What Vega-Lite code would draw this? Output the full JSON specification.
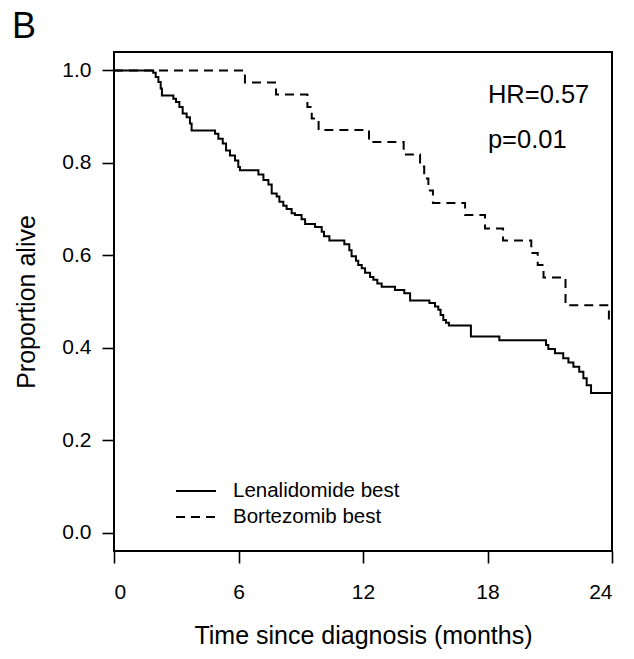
{
  "$schema": "https://vega.github.io/schema/vega-lite/v6.json",
  "autosize": {"type": "none"},
  "padding": {"left": 114, "top": 52, "right": 22, "bottom": 108},
  "width": 498,
  "height": 499,
  "background": "white",
  "title": {"text": "B", "anchor": "start", "frame": "group", "fontSize": 36, "fontWeight": "normal", "font": "Liberation Sans", "color": "black", "dx": -102, "dy": 42, "offset": 12, "baseline": "bottom"},
  "config": {
    "view": {"stroke": "black", "strokeWidth": 2},
    "axis": {"grid": false, "domain": false, "tickColor": "black", "tickWidth": 1.6, "tickSize": 12, "labelColor": "black", "labelFont": "Liberation Sans", "labelFontSize": 21, "titleFont": "Liberation Sans", "titleFontSize": 25, "titleFontWeight": "normal", "titleColor": "black"},
    "legend": {"labelFont": "Liberation Sans", "labelFontSize": 20.5, "labelColor": "black", "labelLimit": 0}
  },
  "layer": [
    {
      "data": {"values": [
        {"group": "Lenalidomide best", "t": 0, "s": 1.0},
        {"group": "Lenalidomide best", "t": 1.89, "s": 0.995},
        {"group": "Lenalidomide best", "t": 2.01, "s": 0.986},
        {"group": "Lenalidomide best", "t": 2.14, "s": 0.975},
        {"group": "Lenalidomide best", "t": 2.25, "s": 0.961},
        {"group": "Lenalidomide best", "t": 2.31, "s": 0.946},
        {"group": "Lenalidomide best", "t": 2.86, "s": 0.939},
        {"group": "Lenalidomide best", "t": 2.99, "s": 0.932},
        {"group": "Lenalidomide best", "t": 3.15, "s": 0.921},
        {"group": "Lenalidomide best", "t": 3.31, "s": 0.907},
        {"group": "Lenalidomide best", "t": 3.50, "s": 0.899},
        {"group": "Lenalidomide best", "t": 3.66, "s": 0.885},
        {"group": "Lenalidomide best", "t": 3.74, "s": 0.870},
        {"group": "Lenalidomide best", "t": 4.87, "s": 0.863},
        {"group": "Lenalidomide best", "t": 5.03, "s": 0.852},
        {"group": "Lenalidomide best", "t": 5.24, "s": 0.842},
        {"group": "Lenalidomide best", "t": 5.40, "s": 0.827},
        {"group": "Lenalidomide best", "t": 5.59, "s": 0.816},
        {"group": "Lenalidomide best", "t": 5.83, "s": 0.805},
        {"group": "Lenalidomide best", "t": 5.99, "s": 0.791},
        {"group": "Lenalidomide best", "t": 6.07, "s": 0.784},
        {"group": "Lenalidomide best", "t": 6.96, "s": 0.775},
        {"group": "Lenalidomide best", "t": 7.20, "s": 0.763},
        {"group": "Lenalidomide best", "t": 7.44, "s": 0.753},
        {"group": "Lenalidomide best", "t": 7.60, "s": 0.734},
        {"group": "Lenalidomide best", "t": 7.84, "s": 0.727},
        {"group": "Lenalidomide best", "t": 7.97, "s": 0.716},
        {"group": "Lenalidomide best", "t": 8.16, "s": 0.707},
        {"group": "Lenalidomide best", "t": 8.32, "s": 0.700},
        {"group": "Lenalidomide best", "t": 8.56, "s": 0.691},
        {"group": "Lenalidomide best", "t": 8.72, "s": 0.687},
        {"group": "Lenalidomide best", "t": 9.04, "s": 0.678},
        {"group": "Lenalidomide best", "t": 9.21, "s": 0.668},
        {"group": "Lenalidomide best", "t": 9.69, "s": 0.661},
        {"group": "Lenalidomide best", "t": 10.01, "s": 0.651},
        {"group": "Lenalidomide best", "t": 10.12, "s": 0.641},
        {"group": "Lenalidomide best", "t": 10.38, "s": 0.632},
        {"group": "Lenalidomide best", "t": 11.10, "s": 0.624},
        {"group": "Lenalidomide best", "t": 11.34, "s": 0.611},
        {"group": "Lenalidomide best", "t": 11.45, "s": 0.598},
        {"group": "Lenalidomide best", "t": 11.66, "s": 0.588},
        {"group": "Lenalidomide best", "t": 11.77, "s": 0.579},
        {"group": "Lenalidomide best", "t": 11.94, "s": 0.572},
        {"group": "Lenalidomide best", "t": 12.10, "s": 0.562},
        {"group": "Lenalidomide best", "t": 12.34, "s": 0.553},
        {"group": "Lenalidomide best", "t": 12.50, "s": 0.547},
        {"group": "Lenalidomide best", "t": 12.69, "s": 0.539},
        {"group": "Lenalidomide best", "t": 12.90, "s": 0.532},
        {"group": "Lenalidomide best", "t": 13.54, "s": 0.525},
        {"group": "Lenalidomide best", "t": 13.99, "s": 0.518},
        {"group": "Lenalidomide best", "t": 14.27, "s": 0.502},
        {"group": "Lenalidomide best", "t": 15.20, "s": 0.497},
        {"group": "Lenalidomide best", "t": 15.47, "s": 0.489},
        {"group": "Lenalidomide best", "t": 15.63, "s": 0.482},
        {"group": "Lenalidomide best", "t": 15.74, "s": 0.471},
        {"group": "Lenalidomide best", "t": 15.87, "s": 0.460},
        {"group": "Lenalidomide best", "t": 16.00, "s": 0.454},
        {"group": "Lenalidomide best", "t": 16.14, "s": 0.448},
        {"group": "Lenalidomide best", "t": 17.20, "s": 0.424},
        {"group": "Lenalidomide best", "t": 18.57, "s": 0.416},
        {"group": "Lenalidomide best", "t": 20.82, "s": 0.406},
        {"group": "Lenalidomide best", "t": 20.93, "s": 0.397},
        {"group": "Lenalidomide best", "t": 21.25, "s": 0.388},
        {"group": "Lenalidomide best", "t": 21.65, "s": 0.377},
        {"group": "Lenalidomide best", "t": 21.90, "s": 0.368},
        {"group": "Lenalidomide best", "t": 22.14, "s": 0.359},
        {"group": "Lenalidomide best", "t": 22.42, "s": 0.348},
        {"group": "Lenalidomide best", "t": 22.62, "s": 0.334},
        {"group": "Lenalidomide best", "t": 22.78, "s": 0.319},
        {"group": "Lenalidomide best", "t": 22.99, "s": 0.302},
        {"group": "Lenalidomide best", "t": 24, "s": 0.302},
        {"group": "Bortezomib best", "t": 0, "s": 1.0},
        {"group": "Bortezomib best", "t": 6.31, "s": 0.974},
        {"group": "Bortezomib best", "t": 7.81, "s": 0.948},
        {"group": "Bortezomib best", "t": 9.32, "s": 0.921},
        {"group": "Bortezomib best", "t": 9.53, "s": 0.896},
        {"group": "Bortezomib best", "t": 9.86, "s": 0.871},
        {"group": "Bortezomib best", "t": 12.29, "s": 0.845},
        {"group": "Bortezomib best", "t": 13.96, "s": 0.818},
        {"group": "Bortezomib best", "t": 14.75, "s": 0.792},
        {"group": "Bortezomib best", "t": 14.95, "s": 0.766},
        {"group": "Bortezomib best", "t": 15.15, "s": 0.740},
        {"group": "Bortezomib best", "t": 15.37, "s": 0.713},
        {"group": "Bortezomib best", "t": 16.92, "s": 0.687},
        {"group": "Bortezomib best", "t": 17.88, "s": 0.658},
        {"group": "Bortezomib best", "t": 18.75, "s": 0.632},
        {"group": "Bortezomib best", "t": 20.11, "s": 0.605},
        {"group": "Bortezomib best", "t": 20.42, "s": 0.579},
        {"group": "Bortezomib best", "t": 20.70, "s": 0.552},
        {"group": "Bortezomib best", "t": 21.76, "s": 0.492},
        {"group": "Bortezomib best", "t": 23.85, "s": 0.456},
        {"group": "Bortezomib best", "t": 24, "s": 0.456}
      ]},
      "mark": {"type": "line", "interpolate": "step-after", "color": "black", "strokeWidth": 2},
      "encoding": {
        "x": {"field": "t", "type": "quantitative", "scale": {"domain": [0, 24], "nice": false, "zero": false},
              "axis": {"values": [0, 6, 12, 18, 24], "labelPadding": 18, "title": "Time since diagnosis (months)", "titlePadding": 21}},
        "y": {"field": "s", "type": "quantitative", "scale": {"domain": [-0.04, 1.04], "nice": false, "zero": false},
              "axis": {"values": [0, 0.2, 0.4, 0.6, 0.8, 1.0], "format": ".1f", "labelPadding": 11, "title": "Proportion alive", "titlePadding": 22}},
        "strokeDash": {"field": "group", "type": "nominal",
          "scale": {"domain": ["Lenalidomide best", "Bortezomib best"], "range": [[1, 0], [9, 6]]},
          "legend": {"title": null, "orient": "none", "legendX": 61, "legendY": 426, "padding": 0, "symbolType": "stroke", "symbolSize": 1600, "symbolStrokeColor": "black", "symbolStrokeWidth": 2, "labelOffset": 16, "rowPadding": 0, "clipHeight": 26, "labelLimit": 0}}
      }
    },
    {
      "data": {"values": [
        {"t": 18.02, "s": 0.947, "label": "HR=0.57"},
        {"t": 18.02, "s": 0.850, "label": "p=0.01"}
      ]},
      "mark": {"type": "text", "align": "left", "baseline": "middle", "font": "Liberation Sans", "fontSize": 25.5, "color": "black"},
      "encoding": {
        "x": {"field": "t", "type": "quantitative"},
        "y": {"field": "s", "type": "quantitative"},
        "text": {"field": "label"}
      }
    }
  ]
}
